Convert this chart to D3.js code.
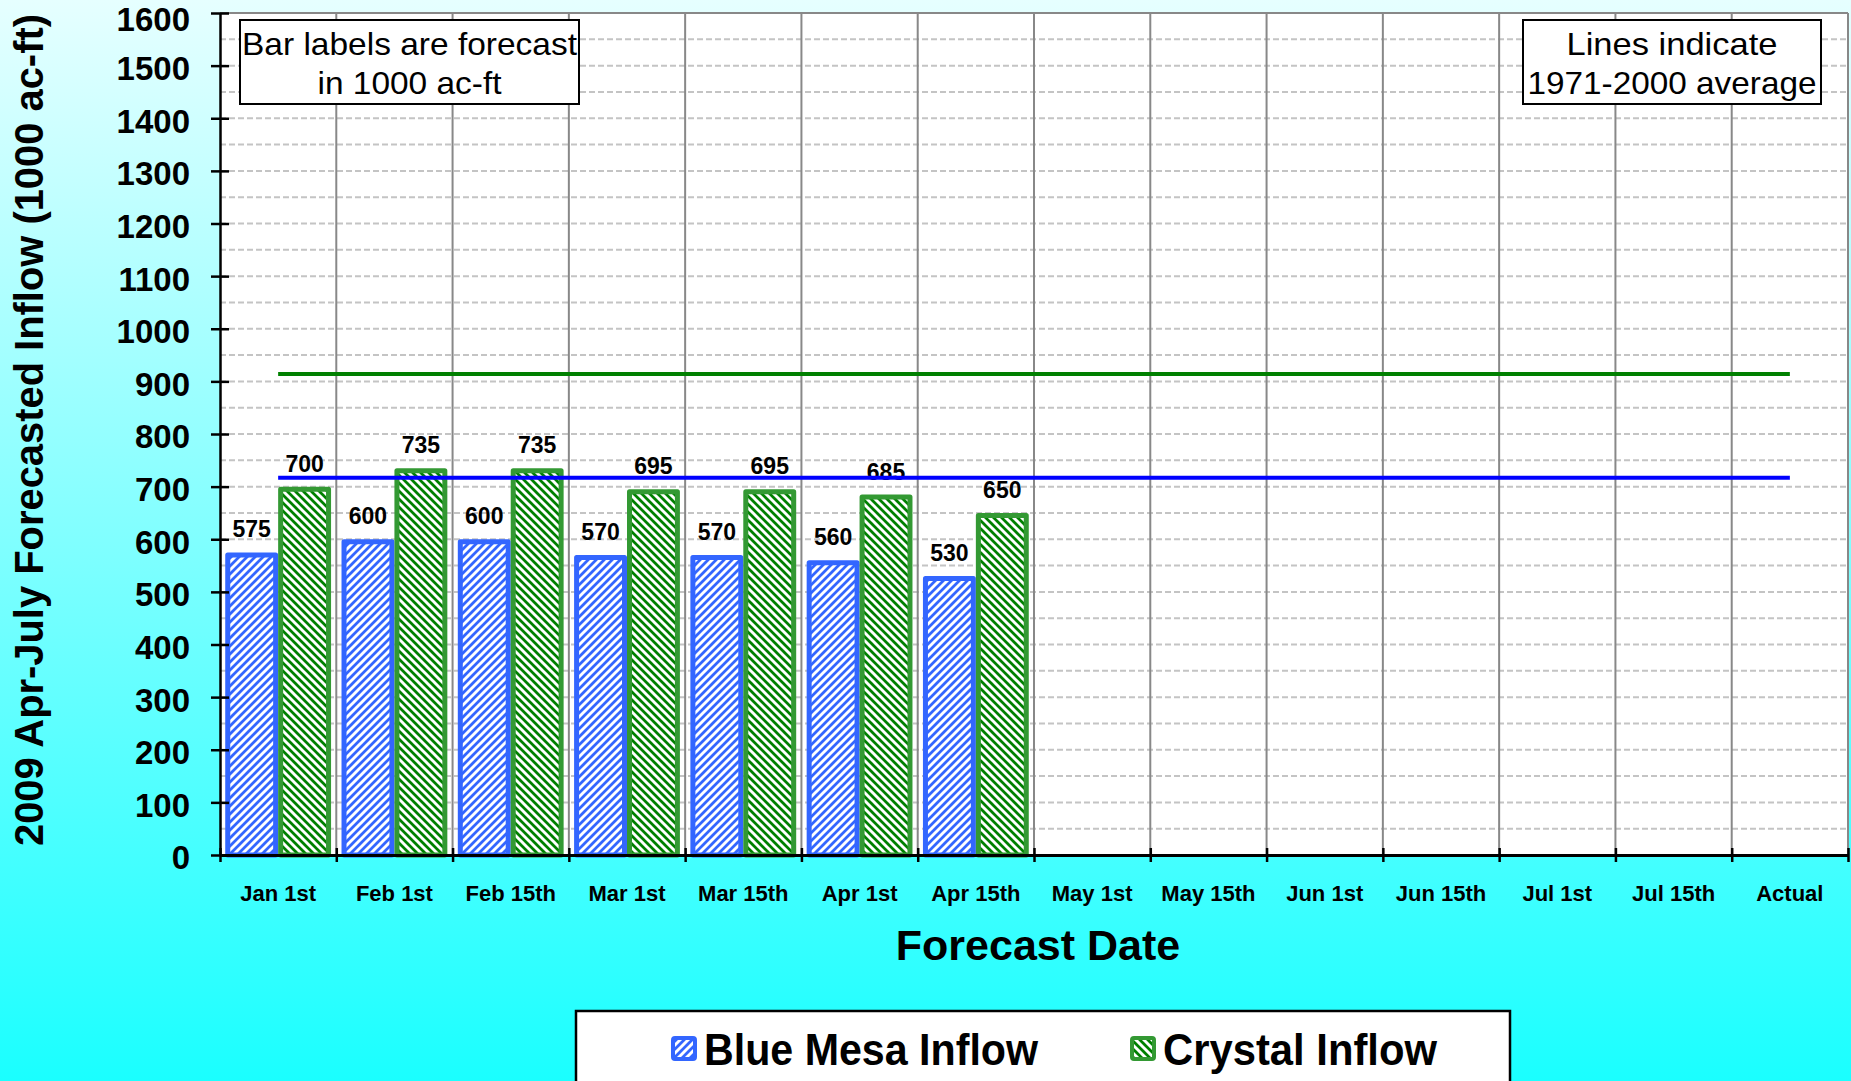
<!DOCTYPE html>
<html>
<head>
<meta charset="utf-8">
<script src="https://cdn.jsdelivr.net/npm/d3@7/dist/d3.min.js"></script>
<style>
  html, body { margin: 0; padding: 0; }
  body { width: 1851px; height: 1081px; overflow: hidden; }
  text { font-family: "Liberation Sans", Arial, sans-serif; }
</style>
</head>
<body>
<svg id="chart" width="1851" height="1081"></svg>
<script>
// ---- data ----
const categories = ["Jan 1st", "Feb 1st", "Feb 15th", "Mar 1st", "Mar 15th", "Apr 1st", "Apr 15th",
                    "May 1st", "May 15th", "Jun 1st", "Jun 15th", "Jul 1st", "Jul 15th", "Actual"];
const seriesNames = ["Blue Mesa Inflow", "Crystal Inflow"];
const blueMesa = [575, 600, 600, 570, 570, 560, 530];
const crystal  = [700, 735, 735, 695, 695, 685, 650];
const blueMesaAvg = 717;
const crystalAvg = 914;
const yTicks = [0, 100, 200, 300, 400, 500, 600, 700, 800, 900, 1000, 1100, 1200, 1300, 1400, 1500, 1600];
const yGrid = d3.range(50, 1650, 50);
const yTitle = "2009 Apr-July Forecasted Inflow  (1000 ac-ft)";
const xTitle = "Forecast Date";
const note1 = ["Bar labels are forecast", "in 1000 ac-ft"];
const note2 = ["Lines indicate", "1971-2000 average"];

// ---- layout ----
const W = 1851, H = 1081;
const plot = { left: 220, right: 1848, top: 13, bottom: 855 };
const svg = d3.select("#chart");
const defs = svg.append("defs");

const bg = defs.append("linearGradient").attr("id", "bg").attr("x1", 0).attr("y1", 0).attr("x2", 0).attr("y2", 1);
bg.append("stop").attr("offset", "0%").attr("stop-color", "#E6FFFF");
bg.append("stop").attr("offset", "100%").attr("stop-color", "#1AFFFF");

function stripe(id, color, dir) {
  const p = defs.append("pattern").attr("id", id).attr("patternUnits", "userSpaceOnUse")
    .attr("width", 8).attr("height", 8);
  p.append("rect").attr("width", 8).attr("height", 8).attr("fill", color);
  const d = dir === "up"
    ? "M-2,2 L2,-2 M0,8 L8,0 M6,10 L10,6"
    : "M-2,6 L2,10 M0,0 L8,8 M6,-2 L10,2";
  p.append("path").attr("d", d).attr("stroke", "#ffffff").attr("stroke-width", 2.9);
}
stripe("patBlue", "#3366FF", "up");
stripe("patGreen", "#008000", "down");

svg.append("rect").attr("width", W).attr("height", H).attr("fill", "url(#bg)");
svg.append("rect").attr("x", plot.left).attr("y", plot.top)
  .attr("width", plot.right - plot.left).attr("height", plot.bottom - plot.top).attr("fill", "#ffffff");

const x0 = d3.scaleBand().domain(categories).range([plot.left, plot.right]).paddingInner(0).paddingOuter(0);
const bw = x0.bandwidth();
const x1 = d3.scaleBand().domain(seriesNames).range([bw * 0.045, bw * 0.955]).padding(0);
const y = d3.scaleLinear().domain([0, 1600]).range([plot.bottom, plot.top]);

// horizontal dashed gridlines
svg.append("g").selectAll("line").data(yGrid).join("line")
  .attr("x1", plot.left).attr("x2", plot.right)
  .attr("y1", d => y(d)).attr("y2", d => y(d))
  .attr("stroke", "#c4c4c4").attr("stroke-width", 2).attr("stroke-dasharray", "6,3");

// vertical gridlines at band boundaries
svg.append("g").selectAll("line").data(categories.slice(1)).join("line")
  .attr("x1", d => x0(d)).attr("x2", d => x0(d))
  .attr("y1", plot.top).attr("y2", plot.bottom)
  .attr("stroke", "#888888").attr("stroke-width", 2);
// top & right border
svg.append("line").attr("x1", plot.left).attr("x2", plot.right).attr("y1", plot.top).attr("y2", plot.top)
  .attr("stroke", "#888888").attr("stroke-width", 2);
svg.append("line").attr("x1", plot.right).attr("x2", plot.right).attr("y1", plot.top).attr("y2", plot.bottom)
  .attr("stroke", "#888888").attr("stroke-width", 2);

// bars
const series = [
  { name: seriesNames[0], values: blueMesa, fill: "url(#patBlue)", stroke: "#3366FF" },
  { name: seriesNames[1], values: crystal, fill: "url(#patGreen)", stroke: "#339933" }
];
const sw = 5;
series.forEach(s => {
  const g = svg.append("g");
  g.selectAll("rect").data(s.values).join("rect")
    .attr("x", (d, i) => x0(categories[i]) + x1(s.name) + sw / 2)
    .attr("width", x1.bandwidth() - sw)
    .attr("y", d => y(d) + sw / 2)
    .attr("height", d => y(0) - y(d) - sw / 2)
    .attr("fill", s.fill).attr("stroke", s.stroke).attr("stroke-width", sw)
    .attr("stroke-linejoin", "round");
});
series.forEach(s => {
  svg.append("g").selectAll("text").data(s.values).join("text")
    .attr("x", (d, i) => x0(categories[i]) + x1(s.name) + x1.bandwidth() / 2)
    .attr("y", d => y(d) - 15)
    .attr("text-anchor", "middle").attr("font-size", 23).attr("font-weight", "bold").attr("fill", "#000")
    .text(d => d);
});

// average lines
const lineX1 = x0(categories[0]) + bw / 2, lineX2 = x0(categories[categories.length - 1]) + bw / 2;
svg.append("line").attr("x1", lineX1).attr("x2", lineX2).attr("y1", y(crystalAvg)).attr("y2", y(crystalAvg))
  .attr("stroke", "#008000").attr("stroke-width", 4);
svg.append("line").attr("x1", lineX1).attr("x2", lineX2).attr("y1", y(blueMesaAvg)).attr("y2", y(blueMesaAvg))
  .attr("stroke", "#0000FF").attr("stroke-width", 4);

// y axis
const yAxis = d3.axisLeft(y).tickValues(yTicks).tickSizeInner(9).tickSizeOuter(0).tickPadding(21).tickFormat(d3.format("d"));
const ga = svg.append("g").attr("transform", `translate(${plot.left},0)`).call(yAxis);
ga.select(".domain").attr("stroke", "#000").attr("stroke-width", 2.5);
ga.selectAll(".tick line").attr("x2", 9).attr("x1", -9).attr("stroke", "#000").attr("stroke-width", 2.5);
ga.selectAll(".tick text").attr("font-size", 33).attr("font-weight", "bold").attr("fill", "#000")
  .attr("font-family", "Liberation Sans, Arial, sans-serif").attr("dy", "0.42em")
  .attr("y", d => d === 1600 ? 4 : 0);

// x axis
const boundaryScale = d3.scaleLinear().domain([0, categories.length]).range([plot.left, plot.right]);
const xAxisLine = d3.axisBottom(boundaryScale).tickValues(d3.range(0, categories.length + 1)).tickSizeInner(7).tickSizeOuter(0).tickFormat("");
const gx = svg.append("g").attr("transform", `translate(0,${plot.bottom})`).call(xAxisLine);
gx.select(".domain").attr("stroke", "#000").attr("stroke-width", 3);
gx.selectAll(".tick line").attr("y1", -7).attr("y2", 7).attr("stroke", "#000").attr("stroke-width", 2.5);

const xLabels = d3.axisBottom(x0).tickSize(0).tickPadding(0);
const gxl = svg.append("g").attr("transform", `translate(0,${plot.bottom})`).call(xLabels);
gxl.select(".domain").remove();
gxl.selectAll(".tick text").attr("y", 46).attr("dy", 0).attr("font-size", 22).attr("font-weight", "bold")
  .attr("fill", "#000").attr("font-family", "Liberation Sans, Arial, sans-serif");

// axis titles
svg.append("text").attr("x", 1038).attr("y", 960).attr("text-anchor", "middle")
  .attr("font-size", 43).attr("font-weight", "bold").attr("fill", "#000").text(xTitle);
svg.append("text").attr("transform", "translate(43,430) rotate(-90)").attr("text-anchor", "middle")
  .attr("font-size", 40).attr("font-weight", "bold").attr("fill", "#000")
  .attr("textLength", 832).attr("lengthAdjust", "spacingAndGlyphs").text(yTitle);

// note boxes
function noteBox(x, yTop, w, h, lines, lens) {
  svg.append("rect").attr("x", x).attr("y", yTop).attr("width", w).attr("height", h)
    .attr("fill", "#fff").attr("stroke", "#000").attr("stroke-width", 2);
  lines.forEach((t, i) => {
    svg.append("text").attr("x", x + w / 2).attr("y", yTop + 35 + i * 39).attr("text-anchor", "middle")
      .attr("font-size", 32).attr("fill", "#000")
      .attr("textLength", lens[i]).attr("lengthAdjust", "spacingAndGlyphs").text(t);
  });
}
noteBox(240, 20, 339, 84, note1, [335, 184]);
noteBox(1523, 20, 298, 84, note2, [211, 289]);

// legend
svg.append("rect").attr("x", 576).attr("y", 1011).attr("width", 934).attr("height", 90)
  .attr("fill", "#fff").attr("stroke", "#000").attr("stroke-width", 2.5);
const legItems = [
  { name: seriesNames[0], fill: "url(#patBlue)", stroke: "#3366FF", mx: 671, tx: 704, len: 334 },
  { name: seriesNames[1], fill: "url(#patGreen)", stroke: "#339933", mx: 1130, tx: 1163, len: 274 }
];
legItems.forEach(l => {
  svg.append("rect").attr("x", l.mx + 2).attr("y", 1038).attr("width", 22).attr("height", 21)
    .attr("rx", 2).attr("fill", l.fill).attr("stroke", l.stroke).attr("stroke-width", 4);
  svg.append("text").attr("x", l.tx).attr("y", 1065).attr("font-size", 45).attr("font-weight", "bold")
    .attr("fill", "#000").attr("textLength", l.len).attr("lengthAdjust", "spacingAndGlyphs").text(l.name);
});
</script>
</body>
</html>
